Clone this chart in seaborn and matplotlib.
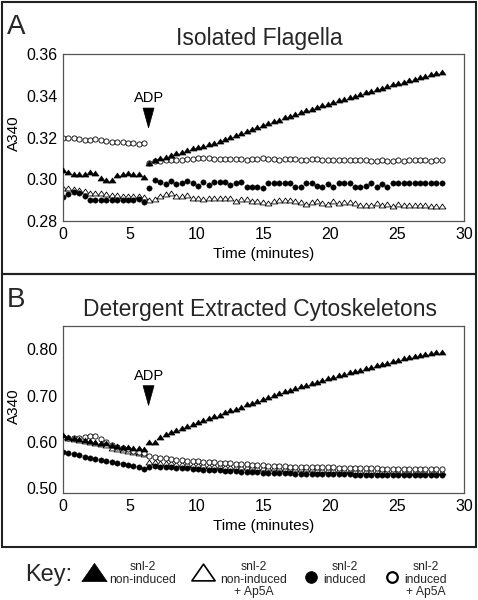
import matplotlib
matplotlib.use("Agg")
import numpy as np
import pandas as pd
import matplotlib.pyplot as plt
import seaborn as sns
from matplotlib.path import Path
from matplotlib.patches import Rectangle, Polygon

# ---------------- data ----------------
TIME_PRE = [0.00, 0.41, 0.81, 1.22, 1.62, 2.03, 2.43, 2.84,
            3.24, 3.65, 4.05, 4.46, 4.86, 5.27, 5.67, 6.08]
TIME_POST = [6.45, 6.86, 7.26, 7.67, 8.07, 8.48, 8.88, 9.29, 9.69, 10.10, 10.50,
             10.91, 11.31, 11.72, 12.12, 12.53, 12.93, 13.34, 13.74, 14.15, 14.55, 14.96,
             15.36, 15.77, 16.17, 16.58, 16.98, 17.39, 17.79, 18.20, 18.60, 19.01, 19.41,
             19.82, 20.22, 20.63, 21.03, 21.44, 21.84, 22.25, 22.65, 23.06, 23.46, 23.87,
             24.27, 24.68, 25.08, 25.49, 25.89, 26.30, 26.70, 27.11, 27.51, 27.92, 28.32]

# Panel A: Isolated flagella
A_NONIND_PRE = [0.3044, 0.3036, 0.3024, 0.3024, 0.3024, 0.3036, 0.3032, 0.3006,
                0.2998, 0.2998, 0.3020, 0.3024, 0.3028, 0.3026, 0.3024, 0.3010]
A_NONIND_POST = [0.3080, 0.3094, 0.3100, 0.3108, 0.3116, 0.3124, 0.3132, 0.3140, 0.3148, 0.3154, 0.3160,
                 0.3168, 0.3176, 0.3182, 0.3192, 0.3202, 0.3212, 0.3222, 0.3230, 0.3240, 0.3250, 0.3260,
                 0.3270, 0.3278, 0.3286, 0.3296, 0.3304, 0.3312, 0.3322, 0.3330, 0.3338, 0.3346, 0.3354,
                 0.3362, 0.3370, 0.3378, 0.3386, 0.3392, 0.3400, 0.3408, 0.3416, 0.3424, 0.3430, 0.3438,
                 0.3446, 0.3454, 0.3462, 0.3468, 0.3476, 0.3482, 0.3490, 0.3496, 0.3502, 0.3510, 0.3516]

A_NONIND_AP5A_PRE = [0.2960, 0.2958, 0.2954, 0.2950, 0.2942, 0.2933, 0.2934, 0.2932,
                     0.2930, 0.2926, 0.2924, 0.2920, 0.2918, 0.2918, 0.2920, 0.2914]
A_NONIND_AP5A_POST = [0.2900, 0.2904, 0.2920, 0.2928, 0.2934, 0.2922, 0.2918, 0.2926, 0.2910, 0.2912, 0.2906,
                      0.2910, 0.2912, 0.2912, 0.2908, 0.2912, 0.2898, 0.2906, 0.2906, 0.2898, 0.2894, 0.2890,
                      0.2888, 0.2898, 0.2902, 0.2902, 0.2900, 0.2896, 0.2890, 0.2882, 0.2892, 0.2896, 0.2884,
                      0.2882, 0.2896, 0.2886, 0.2892, 0.2890, 0.2888, 0.2876, 0.2876, 0.2876, 0.2886, 0.2876,
                      0.2880, 0.2870, 0.2880, 0.2878, 0.2878, 0.2878, 0.2878, 0.2878, 0.2870, 0.2870, 0.2870]

A_IND_PRE = [0.2914, 0.2928, 0.2938, 0.2932, 0.2922, 0.2902, 0.2902, 0.2902,
             0.2900, 0.2902, 0.2900, 0.2902, 0.2902, 0.2900, 0.2904, 0.2890]
A_IND_POST = [0.2957, 0.2996, 0.2985, 0.2978, 0.2990, 0.2976, 0.2980, 0.2992, 0.2984, 0.2970, 0.2986,
              0.2974, 0.2986, 0.2988, 0.2988, 0.2972, 0.2984, 0.2986, 0.2962, 0.2962, 0.2962, 0.2960,
              0.2984, 0.2984, 0.2984, 0.2984, 0.2984, 0.2962, 0.2962, 0.2984, 0.2984, 0.2966, 0.2962,
              0.2978, 0.2962, 0.2984, 0.2984, 0.2984, 0.2964, 0.2964, 0.2966, 0.2984, 0.2964, 0.2978,
              0.2962, 0.2982, 0.2982, 0.2982, 0.2982, 0.2982, 0.2982, 0.2982, 0.2982, 0.2982, 0.2982]

A_IND_AP5A_PRE = [0.3200, 0.3198, 0.3196, 0.3194, 0.3190, 0.3188, 0.3192, 0.3188,
                  0.3182, 0.3178, 0.3180, 0.3178, 0.3172, 0.3172, 0.3170, 0.3172]
A_IND_AP5A_POST = [0.3080, 0.3086, 0.3088, 0.3090, 0.3092, 0.3094, 0.3094, 0.3096, 0.3098, 0.3100, 0.3102,
                   0.3100, 0.3098, 0.3098, 0.3096, 0.3096, 0.3098, 0.3096, 0.3094, 0.3096, 0.3098, 0.3100,
                   0.3098, 0.3096, 0.3094, 0.3096, 0.3098, 0.3096, 0.3094, 0.3094, 0.3096, 0.3096, 0.3094,
                   0.3092, 0.3094, 0.3092, 0.3090, 0.3090, 0.3092, 0.3094, 0.3090, 0.3088, 0.3088, 0.3090,
                   0.3086, 0.3088, 0.3090, 0.3088, 0.3090, 0.3092, 0.3094, 0.3092, 0.3088, 0.3090, 0.3092]

# Panel B: Detergent extracted cytoskeletons
B_NONIND_PRE = [0.614, 0.611, 0.609, 0.607, 0.605, 0.603, 0.599, 0.598,
                0.597, 0.593, 0.592, 0.590, 0.589, 0.587, 0.587, 0.585]
B_NONIND_POST = [0.600, 0.601, 0.610, 0.617, 0.622, 0.626, 0.630, 0.634, 0.638, 0.643, 0.647,
                 0.651, 0.655, 0.659, 0.664, 0.668, 0.672, 0.676, 0.681, 0.685, 0.689, 0.693,
                 0.697, 0.701, 0.705, 0.709, 0.713, 0.716, 0.720, 0.723, 0.727, 0.730, 0.733,
                 0.737, 0.740, 0.744, 0.747, 0.750, 0.753, 0.756, 0.759, 0.762, 0.765, 0.768,
                 0.771, 0.774, 0.777, 0.780, 0.783, 0.786, 0.788, 0.790, 0.792, 0.795, 0.795]

B_NONIND_AP5A_PRE = [0.612, 0.609, 0.607, 0.605, 0.603, 0.601, 0.598, 0.596,
                     0.593, 0.588, 0.584, 0.582, 0.580, 0.578, 0.576, 0.573]
B_NONIND_AP5A_POST = [0.557, 0.556, 0.555, 0.555, 0.554, 0.553, 0.552, 0.552, 0.551, 0.550, 0.550,
                      0.549, 0.548, 0.548, 0.547, 0.547, 0.546, 0.546, 0.545, 0.545, 0.544, 0.544,
                      0.543, 0.543, 0.543, 0.542, 0.542, 0.542, 0.541, 0.541, 0.541, 0.540, 0.540,
                      0.540, 0.539, 0.539, 0.539, 0.538, 0.538, 0.538, 0.538, 0.537, 0.537, 0.537,
                      0.537, 0.537, 0.536, 0.536, 0.536, 0.536, 0.536, 0.535, 0.535, 0.535, 0.535]

B_IND_PRE = [0.579, 0.576, 0.573, 0.571, 0.568, 0.566, 0.563, 0.561,
             0.559, 0.557, 0.555, 0.552, 0.550, 0.548, 0.545, 0.542]
B_IND_POST = [0.546, 0.548, 0.547, 0.546, 0.545, 0.544, 0.544, 0.543, 0.542, 0.541, 0.540,
              0.540, 0.539, 0.539, 0.538, 0.537, 0.537, 0.536, 0.536, 0.535, 0.535, 0.534,
              0.534, 0.534, 0.533, 0.533, 0.533, 0.532, 0.532, 0.532, 0.531, 0.531, 0.531,
              0.531, 0.530, 0.530, 0.530, 0.530, 0.529, 0.529, 0.529, 0.529, 0.529, 0.529,
              0.528, 0.528, 0.528, 0.528, 0.528, 0.528, 0.528, 0.528, 0.528, 0.528, 0.528]

B_IND_AP5A_PRE = [0.610, 0.609, 0.608, 0.609, 0.611, 0.613, 0.612, 0.606,
                  0.600, 0.594, 0.590, 0.587, 0.584, 0.581, 0.579, 0.577]
B_IND_AP5A_POST = [0.570, 0.568, 0.566, 0.565, 0.563, 0.562, 0.561, 0.560, 0.559, 0.558, 0.557,
                   0.557, 0.556, 0.555, 0.554, 0.554, 0.553, 0.552, 0.552, 0.551, 0.550, 0.550,
                   0.549, 0.549, 0.548, 0.548, 0.547, 0.547, 0.547, 0.546, 0.546, 0.546, 0.545,
                   0.545, 0.545, 0.544, 0.544, 0.544, 0.544, 0.543, 0.543, 0.543, 0.543, 0.542,
                   0.542, 0.542, 0.542, 0.542, 0.542, 0.541, 0.541, 0.541, 0.541, 0.541, 0.541]

CONDITIONS = ["non-induced", "non-induced + Ap5A", "induced", "induced + Ap5A"]
KEY_LABELS = [["snl-2", "non-induced"], ["snl-2", "non-induced", "+ Ap5A"],
              ["snl-2", "induced"], ["snl-2", "induced", "+ Ap5A"]]
PANEL_TITLES = {"A": "Isolated Flagella", "B": "Detergent Extracted Cytoskeletons"}
ADP_TIME = 6.4
A_YTICKS = [0.28, 0.30, 0.32, 0.34, 0.36]
B_YTICKS = [0.50, 0.60, 0.70, 0.80]
XTICKS = [0, 5, 10, 15, 20, 25, 30]

SERIES = {
    ("A", "non-induced"): A_NONIND_PRE + A_NONIND_POST,
    ("A", "non-induced + Ap5A"): A_NONIND_AP5A_PRE + A_NONIND_AP5A_POST,
    ("A", "induced"): A_IND_PRE + A_IND_POST,
    ("A", "induced + Ap5A"): A_IND_AP5A_PRE + A_IND_AP5A_POST,
    ("B", "non-induced"): B_NONIND_PRE + B_NONIND_POST,
    ("B", "non-induced + Ap5A"): B_NONIND_AP5A_PRE + B_NONIND_AP5A_POST,
    ("B", "induced"): B_IND_PRE + B_IND_POST,
    ("B", "induced + Ap5A"): B_IND_AP5A_PRE + B_IND_AP5A_POST,
}
TIME = TIME_PRE + TIME_POST
rows = []
for (panel, cond), vals in SERIES.items():
    n = min(len(vals), len(TIME))
    for t, v in zip(TIME[:n], vals[:n]):
        rows.append({"panel": panel, "condition": cond, "time": t, "A340": v})
df = pd.DataFrame(rows)

# ---------------- style ----------------
sns.set_theme(style="white")
plt.rcParams["font.family"] = ["Liberation Sans", "DejaVu Sans"]

W, H = 478, 600
fig = plt.figure(figsize=(W / 100, H / 100), dpi=100)
fig.patch.set_facecolor("white")


def fx(px):
    return px / W


def fy(py):
    return 1 - py / H


TRI = Path([(-1, -0.72), (1, -0.72), (0, 0.72), (-1, -0.72)],
           [Path.MOVETO, Path.LINETO, Path.LINETO, Path.CLOSEPOLY])

STYLE = {
    "non-induced": dict(marker=TRI, color="black", s=26, linewidth=0.4, z=3),
    "non-induced + Ap5A": dict(marker=TRI, color="white", s=24, linewidth=0.6, z=2),
    "induced": dict(marker="o", color="black", s=15, linewidth=0.3, z=2),
    "induced + Ap5A": dict(marker="o", color="white", s=14, linewidth=0.6, z=2.5),
}

axes_px = {"A": (54, 221), "B": (326, 493)}
ylims = {"A": (0.28, 0.36), "B": (0.49, 0.85)}
yticks = {"A": A_YTICKS, "B": B_YTICKS}
adp_geom = {"A": (0.3389, 0.3341, 0.3246), "B": (0.7432, 0.7213, 0.6787)}
ylab_y = {"A": 0.527, "B": 0.52}

for panel in ["A", "B"]:
    top, bot = axes_px[panel]
    ax = fig.add_axes([fx(63), fy(bot), fx(464) - fx(63), (bot - top) / H])
    sub = df[df["panel"] == panel]
    for cond in CONDITIONS:
        st = STYLE[cond]
        d = sub[sub["condition"] == cond]
        sns.scatterplot(data=d, x="time", y="A340", marker=st["marker"], color=st["color"],
                        edgecolor="black", linewidth=st["linewidth"], s=st["s"],
                        legend=False, ax=ax, zorder=st["z"])
    ax.set_xlim(0, 30)
    ax.set_ylim(*ylims[panel])
    ax.set_xticks(XTICKS)
    ax.set_xticklabels([str(x) for x in XTICKS])
    ax.set_yticks(yticks[panel])
    ax.set_yticklabels([f"{v:.2f}" for v in yticks[panel]])
    ax.tick_params(length=0, labelsize=11.5, pad=4, colors="black")
    ax.set_xlabel("Time (minutes)", fontsize=11, labelpad=4, color="black")
    ax.set_ylabel("A340", fontsize=11, color="black")
    ax.yaxis.set_label_coords(-0.105, ylab_y[panel])
    for sp in ax.spines.values():
        sp.set_color("#555555")
        sp.set_linewidth(0.9)
    ty, ay0, ay1 = adp_geom[panel]
    ax.text(ADP_TIME, ty, "ADP", ha="center", va="center", fontsize=10.5, color="black")
    ax.add_patch(Polygon([(ADP_TIME - 0.41, ay0), (ADP_TIME + 0.41, ay0), (ADP_TIME, ay1)],
                         closed=True, facecolor="black", edgecolor="black", lw=0.5,
                         clip_on=False, zorder=5))

# panel titles, letters and frames
fig.text(fx(259), fy(45), PANEL_TITLES["A"], ha="center", va="baseline", fontsize=16.5)
fig.text(fx(260), fy(316), PANEL_TITLES["B"], ha="center", va="baseline", fontsize=16.5)
fig.text(fx(7), fy(34), "A", ha="left", va="baseline", fontsize=20)
fig.text(fx(7), fy(307), "B", ha="left", va="baseline", fontsize=20)
for (y0, y1) in [(2, 274), (274, 547)]:
    fig.add_artist(Rectangle((fx(1.5), fy(y1)), fx(476) - fx(1.5), (y1 - y0) / H,
                             transform=fig.transFigure, fill=False, lw=1.5, ec="#222222"))

# key
kax = fig.add_axes([0, 0, 1, 1])
kax.set_xlim(0, W)
kax.set_ylim(H, 0)
kax.axis("off")
kax.text(25, 581, "Key:", ha="left", va="baseline", fontsize=17)
key_marks = [
    (94.5, 572, TRI, "black", 330, 0.5),
    (203.5, 572, TRI, "white", 280, 1.2),
    (311, 576.5, "o", "black", 72, 0.5),
    (392.5, 577, "o", "white", 58, 1.6),
]
for (x, y, m, c, s, lw) in key_marks:
    kax.scatter([x], [y], marker=m, s=s, facecolor=c, edgecolor="black", linewidth=lw)
label_x = [143, 254, 345, 426]
line_y = [567, 580, 592.5]
for lx, lines in zip(label_x, KEY_LABELS):
    for ly, txt in zip(line_y, lines):
        kax.text(lx, ly, txt, ha="center", va="center", fontsize=8.7)

fig.savefig("out.png", dpi=100, facecolor="white")
